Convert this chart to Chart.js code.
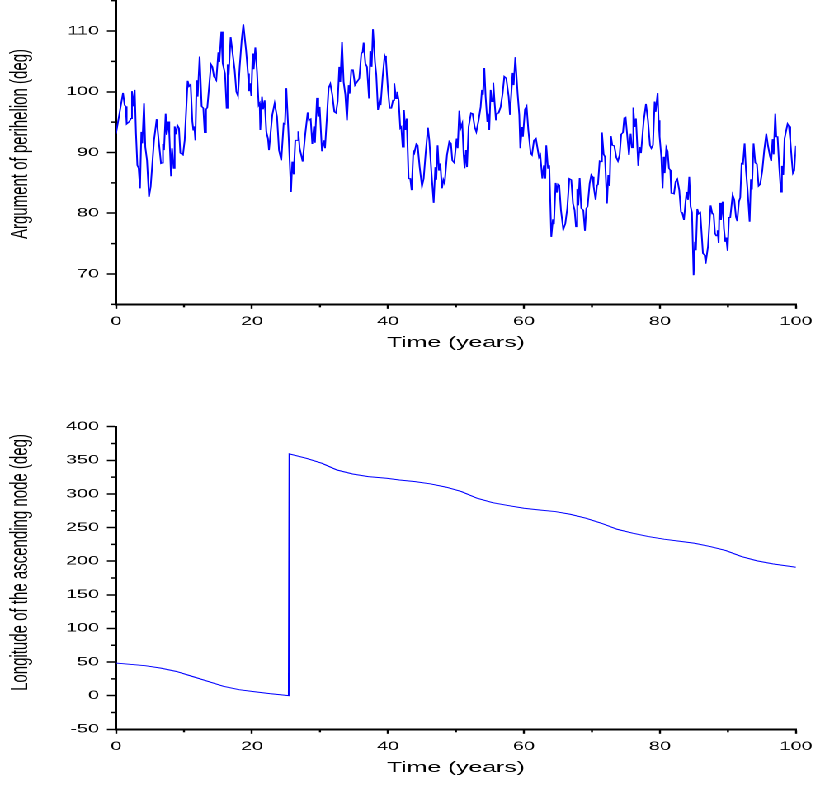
<!DOCTYPE html>
<html><head><meta charset="utf-8">
<script src="https://cdn.jsdelivr.net/npm/chart.js@4.4.1/dist/chart.umd.min.js"></script>
<style>
html,body{margin:0;padding:0;background:#fff;overflow:hidden;width:814px;height:785px}
#wrap{position:absolute;left:0;top:0;width:494px;height:785px;transform:scaleX(1.65);transform-origin:0 0}
#c1{position:absolute;left:0;top:0;width:494px;height:360px}
#c2{position:absolute;left:0;top:400px;width:494px;height:385px}
</style></head><body>
<div id="wrap"><canvas id="c1" width="494" height="360"></canvas><canvas id="c2" width="494" height="385"></canvas></div>
<script>
// ---- data ----
const timeTicks = [0, 20, 40, 60, 80, 100];
const timeMinorTicks = [10, 30, 50, 70, 90];
const perihelionTicks = [70, 80, 90, 100, 110];
const perihelionMinorTicks = [65, 75, 85, 95, 105, 115];
const nodeTicks = [-50, 0, 50, 100, 150, 200, 250, 300, 350, 400];
const nodeMinorTicks = [-25, 25, 75, 125, 175, 225, 275, 325, 375];
const xTitle = 'Time (years)';
const perihelionTitle = 'Argument of perihelion (deg)';
const nodeTitle = 'Longitude of the ascending node (deg)';

// [time (years), argument of perihelion (deg)]
const perihelion = [
[0,93.1],[1.03,99.8],[1.27,97.8],[1.42,97.6],[1.57,94.7],[1.96,95.1],[2.21,95.6],[2.35,100.1],[2.50,97.6],[2.75,100.3],
[2.94,93.1],[3.14,87.9],[3.33,87.4],[3.53,84.1],[3.73,93.4],[3.87,91.5],[4.12,98.1],[4.31,90.9],[4.56,88.7],[4.85,82.7],
[5.10,84.4],[5.25,84.4],[5.59,92.0],[5.98,95.5],[6.32,91.5],[6.62,88.2],[6.81,88.3],[6.91,91.4],[7.06,90.4],[7.30,96.4],
[7.45,92.9],[7.70,95.1],[7.84,93.1],[8.09,86.1],[8.24,90.7],[8.48,87.4],[8.63,94.3],[8.87,93.0],[9.02,94.5],[9.26,94.0],
[9.46,89.9],[9.85,89.6],[10.10,92.0],[10.54,101.8],[10.74,100.9],[10.98,101.2],[11.23,95.1],[11.37,93.7],[11.52,94.3],[11.67,92.0],
[11.86,101.9],[12.01,99.2],[12.30,105.8],[12.60,97.6],[12.84,97.3],[13.04,93.3],[13.24,97.1],[13.43,97.4],[13.97,104.5],[14.17,104.1],
[14.41,102.5],[14.75,101.9],[15.05,106.5],[15.20,104.9],[15.49,109.9],[15.69,104.7],[16.03,103.0],[16.27,97.3],[16.42,104.5],[16.57,102.8],
[16.86,109.0],[17.21,105.8],[17.45,103.6],[17.70,100.0],[17.94,99.3],[18.19,104.1],[18.48,108.5],[18.73,111.1],[19.12,106.9],[19.41,103.0],
[19.56,100.1],[19.71,101.4],[19.90,99.3],[20.10,106.3],[20.25,103.7],[20.49,107.3],[20.74,103.3],[20.98,97.8],[21.13,98.1],[21.22,93.7],
[21.47,99.2],[21.62,97.1],[21.86,98.6],[22.11,93.4],[22.35,92.3],[22.50,90.4],[22.99,96.2],[23.33,98.1],[23.68,95.9],[23.97,90.4],
[24.31,88.7],[24.66,94.8],[24.85,94.7],[25.05,100.6],[25.39,92.6],[25.74,83.5],[25.93,88.5],[26.13,86.4],[26.37,92.0],[26.67,92.0],
[26.81,93.5],[27.01,90.7],[27.45,88.5],[27.84,93.1],[28.19,96.6],[28.38,95.3],[28.63,95.5],[28.87,91.4],[29.12,94.3],[29.26,91.6],
[29.56,99.0],[29.75,95.9],[29.95,97.5],[30.29,90.2],[30.54,92.0],[30.74,90.7],[31.27,100.6],[31.52,101.3],[31.81,99.5],[32.11,96.7],
[32.35,96.5],[32.60,98.4],[32.84,104.1],[32.99,101.6],[33.24,108.2],[33.48,101.6],[33.73,99.5],[33.97,95.3],[34.22,101.1],[34.36,99.7],
[34.61,103.6],[34.85,103.6],[35.15,101.1],[35.44,101.6],[35.78,102.2],[36.08,106.3],[36.27,106.5],[36.42,108.1],[36.67,104.7],[36.91,104.1],
[37.21,98.9],[37.40,106.7],[37.60,104.1],[37.79,110.3],[38.09,104.9],[38.28,102.8],[38.53,97.0],[38.77,98.5],[38.92,97.8],[39.22,102.5],
[39.51,105.9],[39.71,105.2],[40.00,100.3],[40.25,97.3],[40.49,97.3],[40.74,98.6],[40.93,101.4],[41.18,98.9],[41.37,100.0],[41.57,98.6],
[41.81,94.0],[41.96,94.2],[42.16,90.9],[42.35,97.0],[42.55,93.7],[42.75,95.6],[43.04,85.7],[43.28,85.7],[43.48,83.8],[43.73,90.2],
[43.87,89.9],[44.17,91.4],[44.36,91.2],[44.66,87.6],[45.00,84.4],[45.25,85.7],[45.54,89.9],[45.88,94.1],[46.08,92.0],[46.37,87.1],
[46.72,81.7],[46.96,87.6],[47.11,85.5],[47.30,91.2],[47.50,87.1],[47.70,88.2],[47.94,84.1],[48.14,85.5],[48.33,84.9],[48.68,89.6],
[49.02,91.8],[49.26,91.5],[49.46,88.7],[49.75,88.3],[50.10,92.3],[50.25,90.7],[50.49,96.9],[50.69,94.0],[50.93,94.8],[51.13,89.6],
[51.27,87.4],[51.47,90.4],[51.62,87.6],[51.86,94.2],[52.21,96.5],[52.45,96.4],[52.75,94.2],[52.99,93.4],[53.33,95.3],[53.63,97.5],
[53.82,100.3],[53.97,99.5],[54.17,103.9],[54.36,99.2],[54.61,95.1],[54.71,96.4],[54.90,93.7],[55.10,100.3],[55.29,98.4],[55.49,101.5],
[55.69,98.1],[55.88,95.3],[56.03,96.4],[56.27,96.5],[56.57,97.5],[56.86,99.7],[57.11,102.5],[57.40,102.2],[57.75,99.2],[57.94,96.2],
[58.14,96.2],[58.33,103.1],[58.48,101.1],[58.73,105.7],[59.07,99.7],[59.31,96.2],[59.46,90.7],[59.71,94.2],[59.85,92.6],[60.15,97.1],
[60.39,97.6],[60.64,93.7],[60.98,89.9],[61.18,89.6],[61.47,92.0],[61.76,92.3],[62.21,89.2],[62.40,89.6],[62.70,85.7],[62.94,87.9],
[63.14,85.7],[63.28,91.2],[63.53,87.4],[63.72,87.9],[64.02,76.1],[64.26,79.0],[64.41,78.2],[64.66,85.0],[64.85,83.4],[65.00,84.7],
[65.20,84.4],[65.44,80.5],[65.78,77.3],[66.08,78.3],[66.37,80.8],[66.67,85.7],[66.96,85.5],[67.21,81.6],[67.45,80.5],[67.65,77.8],
[67.84,84.0],[67.99,81.3],[68.19,85.8],[68.43,80.8],[68.73,80.5],[68.97,77.1],[69.17,80.8],[69.36,81.1],[69.66,84.9],[69.90,86.3],
[70.10,86.0],[70.25,84.4],[70.54,82.2],[70.74,84.6],[70.88,84.7],[71.13,88.6],[71.32,88.5],[71.47,93.3],[71.72,89.7],[71.91,89.3],
[72.21,81.6],[72.40,86.3],[72.60,84.5],[72.79,92.7],[72.99,91.2],[73.28,91.1],[73.58,89.2],[73.82,88.6],[74.07,89.6],[74.31,93.0],
[74.56,93.3],[74.75,95.7],[74.95,95.8],[75.10,95.8],[75.29,91.5],[75.44,89.6],[75.69,93.1],[75.88,90.8],[76.08,97.4],[76.27,94.2],
[76.47,95.6],[76.81,87.8],[77.01,90.9],[77.21,89.9],[77.60,95.1],[77.94,98.0],[78.24,95.3],[78.53,91.2],[78.73,90.7],[78.97,91.2],
[79.22,98.4],[79.36,96.7],[79.66,99.8],[79.80,95.3],[79.95,92.6],[80.20,89.3],[80.39,84.1],[80.54,89.3],[80.69,86.6],[80.93,90.8],
[81.13,90.2],[81.32,87.4],[81.52,87.1],[81.67,83.3],[81.86,83.3],[82.06,83.2],[82.30,85.2],[82.55,85.6],[82.84,83.8],[83.09,80.2],
[83.28,80.1],[83.53,78.9],[83.77,81.9],[83.92,83.5],[84.12,82.2],[84.31,86.0],[84.51,81.1],[84.71,80.1],[84.95,69.8],[85.15,75.3],
[85.29,73.9],[85.49,80.7],[85.69,79.9],[85.93,80.1],[86.32,73.4],[86.57,73.1],[86.72,71.7],[87.06,74.5],[87.45,81.3],[87.70,79.9],
[87.89,79.9],[88.09,76.7],[88.28,76.3],[88.48,77.2],[88.63,75.1],[88.77,81.7],[88.97,78.9],[89.22,81.9],[89.41,77.5],[89.61,75.3],
[89.75,76.0],[89.95,73.8],[90.15,79.3],[90.34,79.3],[90.69,83.0],[90.93,82.2],[91.18,79.4],[91.37,78.7],[91.62,81.9],[91.81,82.6],
[92.01,88.2],[92.21,88.1],[92.45,91.5],[92.65,87.1],[92.89,83.8],[93.19,78.6],[93.38,85.6],[93.53,83.9],[93.77,91.5],[94.02,88.3],
[94.26,88.1],[94.51,84.5],[94.75,84.8],[95.05,87.0],[95.34,90.4],[95.64,93.1],[95.88,91.2],[96.18,89.4],[96.37,88.6],[96.57,92.2],
[96.72,89.7],[96.96,96.4],[97.11,92.6],[97.30,92.6],[97.55,87.5],[97.79,83.5],[97.94,87.8],[98.14,86.3],[98.33,92.3],[98.53,93.4],
[98.77,94.7],[98.97,94.3],[99.17,92.0],[99.41,88.5],[99.56,86.6],[99.75,87.0],[100.0,91.1]
];

// [time (years), longitude of the ascending node (deg)]
const node = [
[0,48.5],[4.3,44.6],[6.6,41],[8.9,36],[11.2,28.7],[13.5,21.3],[15.8,13.9],[18.1,8.9],[20.4,5.9],[22.6,3],
[25.4,0],[25.5,359.5],[28,353],[30.3,345.5],[32.5,335.6],[34.8,329.7],[37.1,325.7],[39.8,323.3],[41.7,320.8],[44,318.3],
[46.3,314.9],[48.6,310],[50.8,303.5],[53.1,293.6],[55.4,287],[57.7,282.7],[60,278.7],[62.3,276.2],[64.6,273.8],[66.8,269.8],
[69.1,263.9],[71.4,256.4],[73.7,247.5],[76,241.6],[78.3,236.6],[80.6,232.7],[82.9,229.7],[85.1,226.7],[87.4,221.8],[89.7,215.8],
[92,206.9],[94.3,200.5],[96.6,196],[100,191]
];

// ---- drawing ----
const FONT = "'Liberation Sans', Arial, Helvetica, sans-serif";

const extrasPlugin = {
  id: 'extras',
  afterDraw(chart, args, o) {
    const ctx = chart.ctx, xs = chart.scales.x, ys = chart.scales.y;
    ctx.save();
    ctx.strokeStyle = '#000';
    ctx.lineWidth = o.xTickWidth;
    o.xMinor.forEach(v => {
      const p = xs.getPixelForValue(v);
      ctx.beginPath(); ctx.moveTo(p, xs.top); ctx.lineTo(p, xs.top + o.xMinorLen); ctx.stroke();
    });
    ctx.lineWidth = o.yTickWidth;
    o.yMinor.forEach(v => {
      const p = ys.getPixelForValue(v);
      ctx.beginPath(); ctx.moveTo(ys.right, p); ctx.lineTo(ys.right - o.yMinorLen, p); ctx.stroke();
    });
    ctx.fillStyle = '#000';
    ctx.font = o.titleFont;
    ctx.textAlign = 'center';
    ctx.textBaseline = 'middle';
    ctx.translate(o.titleX, o.titleY);
    ctx.rotate(-Math.PI / 2);
    ctx.fillText(o.title, 0, 0);
    ctx.restore();
  }
};

function makeChart(id, series, yMin, yMax, yTicks, yMinor, yTitle, g) {
  return new Chart(document.getElementById(id), {
    type: 'line',
    data: { datasets: [{
      data: series.map(p => ({ x: p[0], y: p[1] })),
      borderColor: '#0000ff', borderWidth: g.lineWidth,
      pointRadius: 0, tension: 0, fill: false
    }]},
    options: {
      responsive: false, animation: false, devicePixelRatio: 2,
      layout: { padding: { left: 0, right: g.padRight, top: g.padTop, bottom: 0 } },
      plugins: {
        legend: { display: false }, tooltip: { enabled: false },
        extras: { xMinor: timeMinorTicks, yMinor: yMinor, xMinorLen: 3, yMinorLen: 3.2,
                  xTickWidth: 1.2, yTickWidth: 1.5, title: yTitle, titleFont: '15px ' + FONT,
                  titleX: 12.5, titleY: g.titleY }
      },
      scales: {
        x: {
          type: 'linear', min: 0, max: 100,
          afterBuildTicks: s => { s.ticks = timeTicks.map(v => ({ value: v })); },
          afterFit: s => { s.height = g.xHeight; s.paddingLeft = 0; s.paddingRight = 0; },
          border: { display: true, color: '#000', width: 2 },
          grid: { drawOnChartArea: false, drawTicks: true, tickLength: 4.5, tickColor: '#000', tickWidth: 1.2 },
          ticks: { autoSkip: false, maxRotation: 0, padding: 5.5, color: '#000',
                   font: { family: FONT, size: 12 }, callback: v => String(v) },
          title: { display: true, text: xTitle, color: '#000',
                   font: { family: FONT, size: 15 }, padding: { top: 0, bottom: 8 } }
        },
        y: {
          type: 'linear', min: yMin, max: yMax,
          afterBuildTicks: s => { s.ticks = yTicks.map(v => ({ value: v })); },
          afterFit: s => { s.width = 70.3; s.paddingTop = 0; s.paddingBottom = 0; },
          border: { display: true, color: '#000', width: 1.5 },
          grid: { drawOnChartArea: false, drawTicks: true, tickLength: 5.5, tickColor: '#000', tickWidth: 1.5 },
          ticks: { autoSkip: false, padding: 4.8, color: '#000',
                   font: { family: FONT, size: 12 }, callback: v => String(v) }
        }
      }
    },
    plugins: [extrasPlugin]
  });
}

makeChart('c1', perihelion, 65, 115, perihelionTicks, perihelionMinorTicks, perihelionTitle,
  { lineWidth: 1.0, padRight: 11.6, padTop: 0.65, xHeight: 55.65, titleY: 144 });
makeChart('c2', node, -50, 400, nodeTicks, nodeMinorTicks, nodeTitle,
  { lineWidth: 1, padRight: 11.6, padTop: 26.7, xHeight: 55.7, titleY: 162.5 });
</script>
</body></html>
